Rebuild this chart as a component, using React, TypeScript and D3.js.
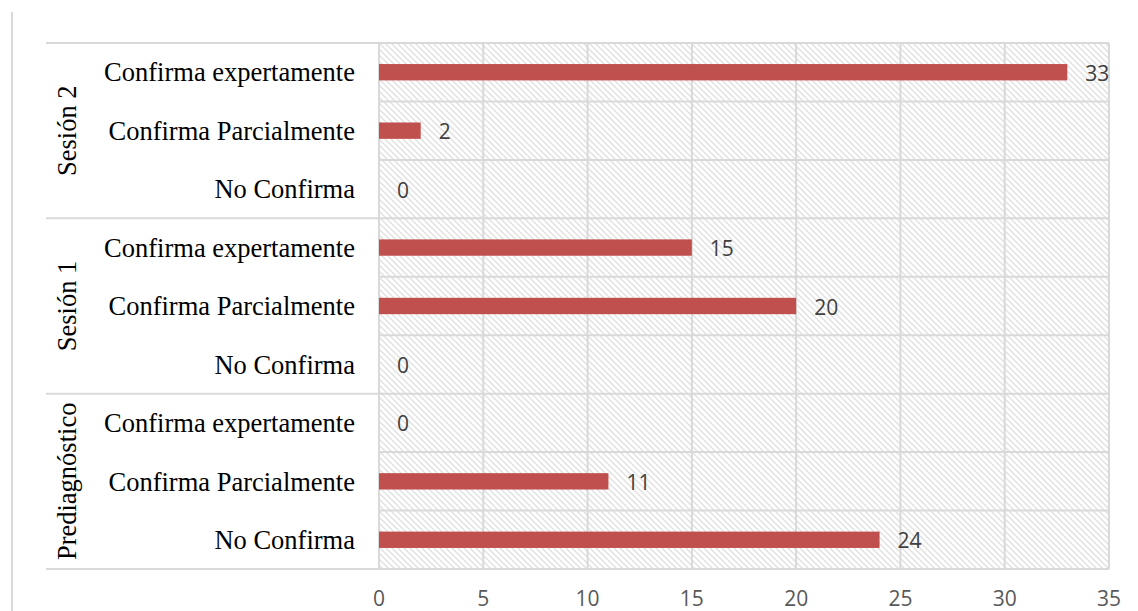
import React from "react";
import * as d3 from "d3";

const groups = ["Sesión 2", "Sesión 1", "Prediagnóstico"];
const categories = ["Confirma expertamente", "Confirma Parcialmente", "No Confirma"];
const values: number[][] = [
  [33, 2, 0],
  [15, 20, 0],
  [0, 11, 24],
];
const xTicks = [0, 5, 10, 15, 20, 25, 30, 35];

export default function App() {
  const W = 1138, H = 611;
  const left = 379, right = 1109, top = 43, bottom = 569;
  const x = d3.scaleLinear().domain([0, 35]).range([left, right]);
  const rows = groups.flatMap((g, gi) => categories.map((c, ci) => ({ key: `${gi}-${ci}`, g, gi, c, ci, v: values[gi][ci] })));
  const y = d3.scaleBand<string>().domain(rows.map(r => r.key)).range([top, bottom]).paddingInner(0).paddingOuter(0);
  const bw = y.bandwidth();
  const barH = bw * 0.28;
  const grid = "#d9d9d9";
  const serif = "'Liberation Serif', 'Times New Roman', serif";
  const sans = "'Open Sans', sans-serif";
  return (
    <svg width={W} height={H} style={{ position: "absolute", left: 0, top: 0, background: "#fff" }}>
      <defs>
        <pattern id="hatch" width="6" height="6" patternUnits="userSpaceOnUse">
          <rect width="6" height="6" fill="#fff" />
          <path d="M-1,-1 L7,7 M-1,5 L1,7 M5,-1 L7,1" stroke="#e2e2e2" strokeWidth="1.5" />
        </pattern>
      </defs>
      <line x1={12} x2={12} y1={12} y2={H} stroke={grid} strokeWidth={2} />
      <rect x={left} y={top} width={right - left} height={bottom - top} fill="url(#hatch)" />
      {xTicks.map(t => (
        <line key={t} x1={x(t)} x2={x(t)} y1={top} y2={bottom} stroke={grid} strokeWidth={2} />
      ))}
      {rows.map(r => (
        <line key={"h" + r.key} x1={r.ci === 0 ? 46 : left} x2={right} y1={y(r.key)!} y2={y(r.key)!} stroke={grid} strokeWidth={2} />
      ))}
      <line x1={46} x2={right} y1={bottom} y2={bottom} stroke={grid} strokeWidth={2} />
      {rows.map(r => {
        const cy = y(r.key)! + bw / 2;
        const lx = x(r.v) + 18;
        return (
          <g key={"b" + r.key}>
            {r.v > 0 && <rect x={x(0)} y={cy - barH / 2} width={x(r.v) - x(0)} height={barH} fill="#c0504d" />}
            <text x={lx} y={cy + 1} dy="0.36em" fontFamily={sans} fontSize={21} fill="#404040">{r.v}</text>
            <text x={355} y={cy} dy="0.35em" textAnchor="end" fontFamily={serif} fontSize={26.5} fill="#000">{r.c}</text>
          </g>
        );
      })}
      {groups.map((g, gi) => {
        const y0 = y(`${gi}-0`)!;
        const cy = y0 + bw * 1.5;
        return (
          <text key={g} transform={`translate(67,${cy}) rotate(-90)`} textAnchor="middle" dy="0.35em" fontFamily={serif} fontSize={26.5} fill="#000">{g}</text>
        );
      })}
      {xTicks.map(t => (
        <text key={"t" + t} x={x(t)} y={598} dy="0.36em" textAnchor="middle" fontFamily={sans} fontSize={21} fill="#595959">{t}</text>
      ))}
    </svg>
  );
}
